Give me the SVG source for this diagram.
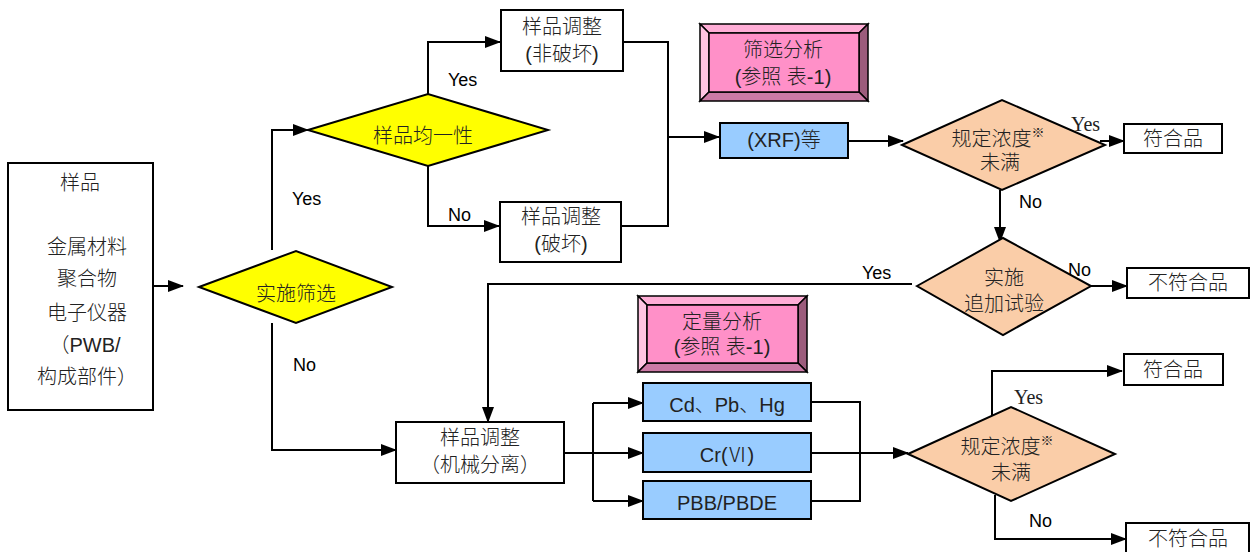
<svg xmlns="http://www.w3.org/2000/svg" width="1253" height="552" viewBox="0 0 1253 552">
<defs>
<marker id="arr" markerUnits="userSpaceOnUse" markerWidth="16" markerHeight="12" refX="15" refY="6" orient="auto">
<path d="M0,0 L16,6 L0,12 Z" fill="#000"/>
</marker>
<style>
.box{fill:#fff;stroke:#000;stroke-width:2}
.blue{fill:#99CCFF;stroke:#000;stroke-width:2}
.yel{fill:#FFFF00;stroke:#000;stroke-width:2}
.tan{fill:#FACDA8;stroke:#000;stroke-width:2}
.ln{fill:none;stroke:#000;stroke-width:2}
.ar{fill:none;stroke:#000;stroke-width:2;marker-end:url(#arr)}
.bv{stroke:#000;stroke-width:1.5;stroke-linejoin:miter}
.bt{fill:#FFADD6}.bl{fill:#FFC4E2}.br{fill:#9C5C7C}.bb{fill:#CC7AA6}.bf{fill:#FF90C8}
text{font-family:"Liberation Sans","Noto Sans CJK SC",sans-serif;font-size:20px;font-weight:300;fill:#222;text-anchor:middle;dominant-baseline:central}
.lb{font-size:18px;font-weight:normal;text-anchor:start;fill:#000}
.sf{font-family:"Liberation Serif","Noto Sans CJK SC",serif;font-size:20px;font-weight:normal;text-anchor:start;fill:#222}
</style>
</defs>

<g id="connectors">
<path class="ar" d="M153,286 H183"/>
<path class="ar" d="M272,250 V130 H308"/>
<path class="ar" d="M272,323 V450 H396"/>
<path class="ar" d="M428,94 V42 H500"/>
<path class="ar" d="M428,166 V226 H499"/>
<path class="ln" d="M623,42 H668 V226 H621"/>
<path class="ar" d="M668,137 H719"/>
<path class="ar" d="M848,141 H903"/>
<path class="ar" d="M1100,141 H1124"/>
<path class="ar" d="M1000,190 V242"/>
<path class="ar" d="M1091,286 H1127"/>
<path class="ar" d="M912,284 H488 V422"/>
<path class="ln" d="M564,453 H593"/>
<path class="ln" d="M593,403 V501"/>
<path class="ar" d="M593,403 H643"/>
<path class="ar" d="M593,453 H643"/>
<path class="ar" d="M593,501 H643"/>
<path class="ln" d="M811,402 H860 V501 H811"/>
<path class="ar" d="M811,453 H908"/>
<path class="ar" d="M992,416 V371 H1122"/>
<path class="ar" d="M995,495 V539 H1126"/>
</g>

<g id="labels">
<text class="lb" x="448" y="80">Yes</text>
<text class="lb" x="292" y="199">Yes</text>
<text class="lb" x="448" y="215">No</text>
<text class="lb" x="293" y="365">No</text>
<text class="lb" x="1019" y="202">No</text>
<text class="sf" x="1071" y="124">Yes</text>
<text class="lb" x="862" y="273">Yes</text>
<text class="lb" x="1068" y="270">No</text>
<text class="sf" x="1014" y="397">Yes</text>
<text class="lb" x="1029" y="521">No</text>
</g>

<g id="sample">
<rect class="box" x="8" y="163" width="145" height="247"/>
<text x="80" y="183">样品</text>
<text x="87" y="247">金属材料</text>
<text x="87" y="279">聚合物</text>
<text x="87" y="313">电子仪器</text>
<text x="85" y="345">（PWB/</text>
<text x="87" y="377">构成部件）</text>
</g>

<g id="screening-decision">
<polygon class="yel" points="199,287 296,251 392,287 296,323"/>
<text x="296" y="294">实施筛选</text>
</g>

<g id="homogeneity">
<polygon class="yel" points="308,130 428,94 548,130 428,166"/>
<text x="423" y="136">样品均一性</text>
</g>

<g id="prep-nondestructive">
<rect class="box" x="501" y="10" width="122" height="61"/>
<text x="562" y="27">样品调整</text>
<text x="562" y="54">(非破坏)</text>
</g>

<g id="prep-destructive">
<rect class="box" x="500" y="202" width="121" height="60"/>
<text x="561" y="217">样品调整</text>
<text x="561" y="244">(破坏)</text>
</g>

<g id="screening-analysis">
<rect class="bf" x="700" y="24" width="168" height="77"/>
<polygon class="bv bt" points="700,24 868,24 859,33 709,33"/>
<polygon class="bv bl" points="700,24 709,33 709,92 700,101"/>
<polygon class="bv br" points="868,24 868,101 859,92 859,33"/>
<polygon class="bv bb" points="700,101 709,92 859,92 868,101"/>
<rect class="bv bf" x="709" y="33" width="150" height="59"/>
<text x="783" y="50">筛选分析</text>
<text x="783" y="77">(参照 表-1)</text>
</g>

<g id="xrf">
<rect class="blue" x="720" y="123" width="128" height="35"/>
<text x="784" y="140">(XRF)等</text>
</g>

<g id="limit-decision-1">
<polygon class="tan" points="902,145 1002,100 1105,145 1002,190"/>
<text x="998" y="139">规定浓度<tspan font-size="13" dy="-7">※</tspan></text>
<text x="1000" y="163">未满</text>
</g>

<g id="pass-1">
<rect class="box" x="1124" y="124" width="98" height="29"/>
<text x="1173" y="139">符合品</text>
</g>

<g id="additional-test">
<polygon class="tan" points="917,286 1003,238 1091,286 1003,335"/>
<text x="1004" y="278">实施</text>
<text x="1004" y="304">追加试验</text>
</g>

<g id="fail-1">
<rect class="box" x="1127" y="268" width="122" height="30"/>
<text x="1188" y="283">不符合品</text>
</g>

<g id="prep-mechanical">
<rect class="box" x="396" y="422" width="168" height="61"/>
<text x="480" y="438">样品调整</text>
<text x="480" y="465">（机械分离）</text>
</g>

<g id="quantitative-analysis">
<rect class="bf" x="638" y="296" width="169" height="76"/>
<polygon class="bv bt" points="638,296 807,296 798,305 647,305"/>
<polygon class="bv bl" points="638,296 647,305 647,363 638,372"/>
<polygon class="bv br" points="807,296 807,372 798,363 798,305"/>
<polygon class="bv bb" points="638,372 647,363 798,363 807,372"/>
<rect class="bv bf" x="647" y="305" width="151" height="58"/>
<text x="722" y="322">定量分析</text>
<text x="722" y="347">(参照 表-1)</text>
</g>

<g id="cd-pb-hg">
<rect class="blue" x="643" y="383" width="168" height="38"/>
<text x="727" y="405" font-size="19">Cd、Pb、Hg</text>
</g>

<g id="cr6">
<rect class="blue" x="643" y="433" width="168" height="39"/>
<text x="727" y="455">Cr(Ⅵ)</text>
</g>

<g id="pbb-pbde">
<rect class="blue" x="643" y="481" width="168" height="38"/>
<text x="727" y="503">PBB/PBDE</text>
</g>

<g id="limit-decision-2">
<polygon class="tan" points="908,454 1011,407 1115,454 1011,501"/>
<text x="1007" y="447">规定浓度<tspan font-size="13" dy="-7">※</tspan></text>
<text x="1011" y="473">未满</text>
</g>

<g id="pass-2">
<rect class="box" x="1124" y="354" width="99" height="31"/>
<text x="1173" y="370">符合品</text>
</g>

<g id="fail-2">
<rect class="box" x="1126" y="523" width="123" height="31"/>
<text x="1188" y="539">不符合品</text>
</g>
</svg>
